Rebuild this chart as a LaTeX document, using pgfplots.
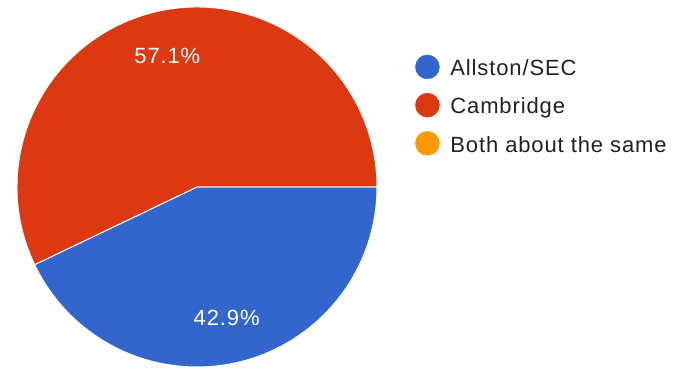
\documentclass[border=0pt]{standalone}
\usepackage{fontspec}
\setmainfont{Liberation Sans}[LetterSpace=4]
\usepackage{pgfplots}
\usepackage{pgfplotstable}
\pgfplotsset{compat=1.18}
\definecolor{gblue}{HTML}{3366CC}
\definecolor{gred}{HTML}{DC3912}
\definecolor{gorange}{HTML}{FF9900}
\definecolor{gtext}{HTML}{212121}
\pgfplotstableread{
label value
Allston/SEC 42.9
Cambridge 57.1
Both 0
}\piedata
\begin{document}
\begin{tikzpicture}
\pgfplotstablegetelem{0}{value}\of\piedata \pgfmathsetmacro{\va}{\pgfplotsretval}
\pgfplotstablegetelem{1}{value}\of\piedata \pgfmathsetmacro{\vb}{\pgfplotsretval}
\pgfmathsetmacro{\aend}{-3.6*\va}
\pgfmathsetmacro{\bend}{\aend-3.6*\vb}
\pgfmathsetmacro{\amid}{\aend/2}
\pgfmathsetmacro{\bmid}{(\aend+\bend)/2}
\pgfmathsetmacro{\ax}{197+134*cos(\amid)}
\pgfmathsetmacro{\ay}{182+134*sin(\amid)}
\pgfmathsetmacro{\bx}{197+134*cos(\bmid)}
\pgfmathsetmacro{\by}{182+134*sin(\bmid)}
\begin{axis}[
  x=1pt, y=1pt, xmin=0, xmax=677, ymin=0, ymax=369,
  hide axis, clip=false,
  legend cell align=left,
  legend image code/.code={%
    \path[draw=none, fill=none] (0pt,-6pt) rectangle (35pt,18pt);
    \fill[#1] (12pt,1.5pt) circle[radius=12pt];},
  legend style={at={(axis cs:412,266)}, anchor=west, draw=none, fill=none,
    font=\fontsize{22}{26}\selectfont, text=gtext, row sep=9.5pt,
    nodes={inner sep=0pt}},
]
\addlegendimage{gblue}\addlegendentry{Allston/SEC}
\addlegendimage{gred}\addlegendentry{Cambridge}
\addlegendimage{gorange}\addlegendentry{Both about the same}
\path[fill=gblue, draw=white, line width=1pt] (axis cs:197,182) -- ++(0:180pt)
  arc[start angle=0, end angle=\aend, radius=180pt] -- cycle;
\path[fill=gred, draw=white, line width=1pt] (axis cs:197,182) -- ++(\aend:180pt)
  arc[start angle=\aend, end angle=\bend, radius=180pt] -- cycle;
\node[white, font=\fontsize{22}{26}\selectfont] at (axis cs:\ax,\ay)
  {\pgfmathprintnumber[fixed,precision=1,fixed zerofill,assume math mode=true]{\va}\%};
\node[white, font=\fontsize{22}{26}\selectfont] at (axis cs:\bx,\by)
  {\pgfmathprintnumber[fixed,precision=1,fixed zerofill,assume math mode=true]{\vb}\%};
\end{axis}
\pgfresetboundingbox
\path (current axis.south west) rectangle (current axis.north east);
\end{tikzpicture}
\end{document}
